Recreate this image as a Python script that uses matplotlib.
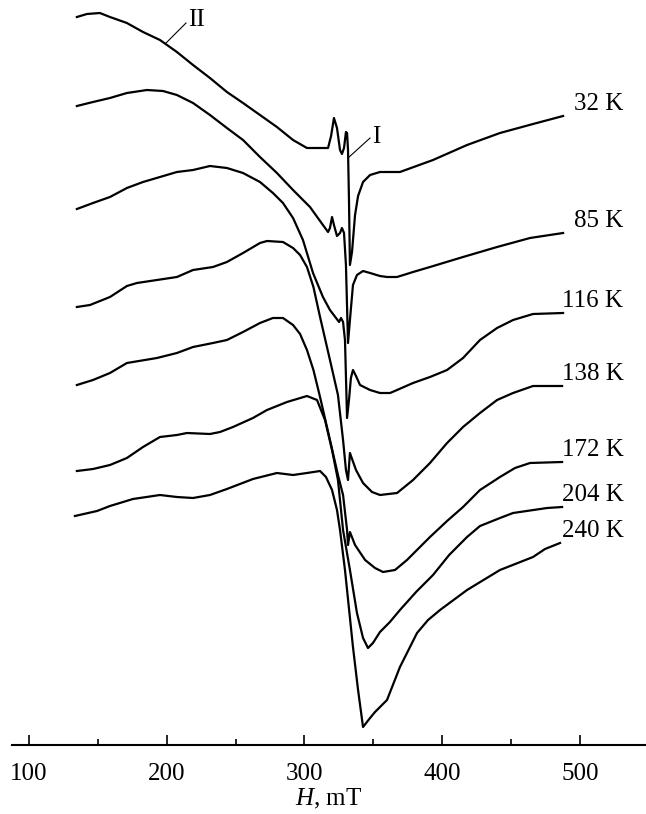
import matplotlib
matplotlib.use("Agg")
import matplotlib.pyplot as plt
from matplotlib.ticker import MultipleLocator

plt.rcParams['font.family'] = ['Liberation Serif', 'DejaVu Serif']
plt.rcParams['mathtext.fontset'] = 'custom'
plt.rcParams['mathtext.it'] = 'Liberation Serif:italic'
plt.rcParams['mathtext.rm'] = 'Liberation Serif'

# EPR spectra, magnetic field H (mT) vs. derivative signal (a.u., stacked)
temps = ['32 K', '85 K', '116 K', '138 K', '172 K', '204 K', '240 K']

h_32 = [134.8, 142.1, 151.5, 158.8, 171.1, 182.8, 195.1, 207.4, 219.1, 231.4, 243.7, 255.4,
        267.7, 280.0, 291.7, 301.8, 317.1, 319.3, 321.4, 323.6, 325.8, 327.2, 328.7, 330.1,
        330.9, 331.6, 332.3, 333.0, 334.5, 336.7, 338.9, 342.5, 347.6, 354.8, 369.3, 393.3,
        418.0, 441.9, 465.9, 487.7]
s_32 = [72.8, 73.1, 73.2, 72.8, 72.2, 71.3, 70.5, 69.3, 68.0, 66.7, 65.3, 64.2,
        63.0, 61.8, 60.5, 59.7, 59.7, 60.9, 62.7, 61.7, 59.5, 59.1, 59.7, 61.3,
        61.2, 59.5, 54.5, 48.0, 49.3, 53.0, 54.9, 56.3, 57.0, 57.3, 57.3, 58.5,
        60.0, 61.2, 62.1, 62.9]

h_85 = [134.8, 146.5, 158.8, 171.1, 185.7, 197.3, 207.4, 219.1, 231.4, 243.7, 255.4, 267.7,
        280.0, 291.7, 304.0, 313.4, 317.1, 318.5, 320.0, 321.4, 323.6, 325.8, 327.2, 328.7,
        330.1, 331.6, 333.0, 335.2, 338.1, 342.5, 347.6, 354.8, 359.9, 367.2, 378.8, 391.1,
        415.1, 439.8, 463.7, 487.7]
s_85 = [63.9, 64.3, 64.7, 65.2, 65.5, 65.4, 65.0, 64.2, 63.0, 61.7, 60.5, 58.8,
        57.2, 55.5, 53.8, 52.0, 51.3, 51.7, 52.8, 52.0, 50.9, 51.2, 51.7, 51.2,
        48.0, 40.2, 42.5, 46.0, 47.0, 47.4, 47.2, 46.9, 46.8, 46.8, 47.3, 47.8,
        48.8, 49.8, 50.7, 51.2]

h_116 = [134.8, 146.5, 158.8, 171.1, 182.8, 195.1, 207.4, 219.1, 231.4, 243.7, 255.4, 267.7,
         277.1, 284.4, 291.7, 298.9, 306.2, 313.4, 318.5, 322.9, 325.1, 326.5, 328.0, 329.4,
         330.9, 332.3, 333.7, 335.2, 337.4, 340.3, 347.6, 354.8, 362.1, 367.2, 378.8, 391.1,
         403.5, 415.1, 427.4, 439.8, 451.4, 465.9, 487.7]
s_116 = [53.6, 54.2, 54.8, 55.7, 56.3, 56.8, 57.3, 57.5, 57.9, 57.7, 57.2, 56.3,
         55.2, 54.2, 52.7, 50.5, 47.2, 44.8, 43.5, 42.7, 42.3, 42.7, 42.3, 40.5,
         32.7, 34.5, 36.7, 37.5, 36.9, 36.0, 35.5, 35.2, 35.2, 35.5, 36.2, 36.8,
         37.5, 38.7, 40.5, 41.7, 42.5, 43.1, 43.2]

h_138 = [134.8, 144.3, 158.8, 171.1, 178.4, 192.9, 207.4, 219.1, 233.6, 243.7, 255.4, 267.7,
         272.8, 284.4, 291.7, 296.8, 301.8, 306.5, 311.3, 318.5, 324.3, 328.0, 330.1, 331.6,
         333.0, 337.4, 342.5, 349.0, 354.8, 367.2, 378.8, 391.1, 403.5, 415.1, 427.4, 439.8,
         451.4, 465.9, 487.0]
s_138 = [43.8, 44.0, 44.8, 45.9, 46.2, 46.5, 46.8, 47.5, 47.8, 48.3, 49.2, 50.2,
         50.4, 50.3, 49.7, 49.0, 47.8, 45.8, 42.8, 38.5, 35.0, 30.5, 27.5, 26.5,
         29.2, 27.5, 26.2, 25.3, 25.0, 25.2, 26.5, 28.2, 30.2, 31.8, 33.2, 34.5,
         35.2, 35.9, 35.9]

h_172 = [134.8, 146.5, 158.8, 171.1, 192.9, 207.4, 219.1, 233.6, 243.7, 255.4, 267.7, 277.1,
         284.4, 291.7, 296.8, 301.8, 306.5, 311.3, 318.5, 324.3, 328.0, 330.9, 331.6, 333.0,
         336.7, 344.0, 351.2, 357.0, 365.7, 374.4, 391.1, 403.5, 415.1, 427.4, 441.9, 452.8,
         463.7, 487.0]
s_172 = [36.0, 36.5, 37.2, 38.2, 38.7, 39.2, 39.8, 40.2, 40.5, 41.3, 42.2, 42.7,
         42.7, 42.0, 41.1, 39.5, 37.5, 34.8, 30.5, 27.0, 25.0, 21.5, 20.0, 21.3,
         20.0, 18.5, 17.7, 17.3, 17.5, 18.5, 20.8, 22.4, 23.8, 25.5, 26.8, 27.7,
         28.2, 28.3]

h_204 = [134.8, 146.5, 158.8, 171.1, 182.8, 195.1, 207.4, 214.7, 231.4, 238.7, 248.1, 262.6,
         272.8, 287.3, 301.8, 309.1, 314.9, 320.0, 324.3, 328.0, 333.0, 338.1, 342.5, 346.1,
         349.7, 354.8, 362.0, 369.3, 381.0, 393.3, 405.0, 418.0, 427.4, 441.9, 451.4, 476.1,
         487.0]
s_204 = [27.4, 27.6, 28.0, 28.7, 29.8, 30.8, 31.0, 31.2, 31.1, 31.3, 31.8, 32.7,
         33.5, 34.3, 34.9, 34.5, 32.5, 29.5, 26.5, 21.5, 17.5, 13.2, 10.7, 9.7,
         10.2, 11.3, 12.3, 13.5, 15.3, 17.0, 19.0, 20.8, 21.9, 22.7, 23.2, 23.7,
         23.8]

h_240 = [133.4, 149.4, 158.8, 175.5, 195.1, 207.4, 219.1, 231.4, 243.7, 262.6, 280.0, 291.7,
         301.8, 311.3, 315.6, 320.0, 323.6, 325.8, 329.4, 335.2, 338.9, 342.5, 347.6, 351.2,
         359.9, 369.3, 381.7, 389.7, 398.4, 418.0, 441.9, 465.9, 474.6, 485.5]
s_240 = [22.9, 23.4, 23.9, 24.6, 25.0, 24.8, 24.7, 25.0, 25.6, 26.6, 27.2, 27.0,
         27.2, 27.4, 26.8, 25.5, 23.5, 21.5, 17.5, 9.8, 5.5, 1.8, 2.7, 3.3,
         4.5, 7.8, 11.2, 12.5, 13.5, 15.5, 17.5, 18.8, 19.6, 20.2]

fields = [h_32, h_85, h_116, h_138, h_172, h_204, h_240]
signals = [s_32, s_85, s_116, s_138, s_172, s_204, s_240]

fig = plt.figure(figsize=(6.46, 8.14), dpi=100)
ax = fig.add_axes([12 / 646, 69 / 814, 634 / 646, 745 / 814])

for h, s, t in zip(fields, signals, temps):
    ax.plot(h, s, color='black', lw=1.6, solid_joinstyle='round')
    ax.text(531.5, s[-1] + 1.2, t, ha='right', va='center', fontsize=18)

# line markers: I - narrow line, II - broad low-field line
ax.plot([331.6, 347.6], [58.7, 60.7], color='black', lw=0.8)
ax.text(349.0, 60.8, 'I', ha='left', va='center', fontsize=18)
ax.plot([199.5, 214.0], [70.2, 72.2], color='black', lw=0.8)
ax.text(215.5, 72.5, 'II', ha='left', va='center', fontsize=18)

ax.set_xlim(87.7, 547.9)
ax.set_ylim(0, 74.5)
for side in ['left', 'right', 'top']:
    ax.spines[side].set_visible(False)
ax.spines['bottom'].set_linewidth(1.5)
ax.set_yticks([])
ax.xaxis.set_major_locator(MultipleLocator(100))
ax.xaxis.set_minor_locator(MultipleLocator(50))
ax.tick_params(axis='x', which='major', direction='in', length=7, width=1.2,
               labelsize=18, pad=13)
ax.tick_params(axis='x', which='minor', direction='in', length=4.5, width=1.2)
ax.set_xlabel('$H$, mT', fontsize=18, labelpad=1)

fig.savefig('out.png', dpi=100)
